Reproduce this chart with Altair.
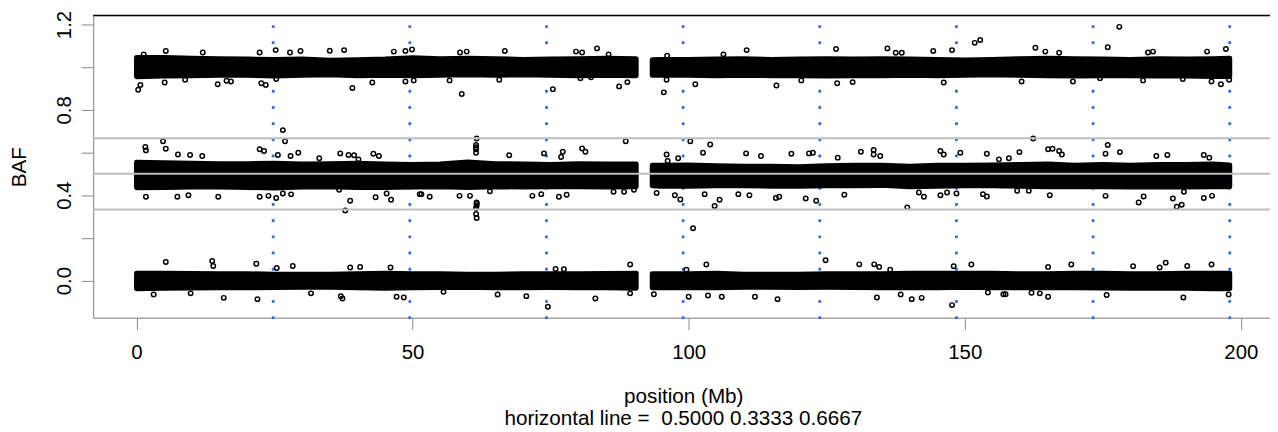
import json
import altair as alt
import pandas as pd

# ---------------- data ----------------
# envelope sample positions (Mb) of the dense bands, p-arm and q-arm
arm_p_pos = [0, 5, 10, 15, 20, 25, 30, 35, 40, 45, 50, 55, 60, 65, 70, 75, 80, 85, 90.5]
arm_q_pos = [93.4, 95, 100, 105, 110, 115, 120, 125, 130, 135, 140, 145, 150, 155,
             160, 165, 170, 175, 180, 185, 190, 195, 198]

# upper / lower edges of the dense BAF bands (near 1, 0.5, 0)
top_hi_p = [1.045, 1.045, 1.042, 1.040, 1.038, 1.036, 1.038, 1.032, 1.035, 1.038,
            1.044, 1.040, 1.042, 1.040, 1.036, 1.038, 1.040, 1.042, 1.040]
top_lo_p = [0.955, 0.958, 0.960, 0.962, 0.962, 0.958, 0.962, 0.965, 0.960, 0.962,
            0.960, 0.962, 0.965, 0.962, 0.965, 0.962, 0.960, 0.962, 0.960]
top_hi_q = [1.035, 1.036, 1.036, 1.038, 1.040, 1.036, 1.038, 1.040, 1.038, 1.040,
            1.038, 1.036, 1.034, 1.036, 1.040, 1.042, 1.040, 1.038, 1.036, 1.040,
            1.038, 1.040, 1.042]
top_lo_q = [0.962, 0.962, 0.962, 0.960, 0.962, 0.960, 0.960, 0.958, 0.960, 0.960,
            0.962, 0.960, 0.962, 0.964, 0.962, 0.960, 0.958, 0.960, 0.960, 0.958,
            0.958, 0.956, 0.956]
mid_hi_p = [0.555, 0.552, 0.550, 0.548, 0.548, 0.550, 0.546, 0.548, 0.550, 0.546,
            0.544, 0.546, 0.556, 0.548, 0.546, 0.544, 0.548, 0.546, 0.546]
mid_lo_p = [0.435, 0.436, 0.438, 0.438, 0.436, 0.434, 0.438, 0.440, 0.436, 0.436,
            0.438, 0.440, 0.436, 0.440, 0.438, 0.440, 0.440, 0.438, 0.440]
mid_hi_q = [0.540, 0.540, 0.542, 0.538, 0.536, 0.536, 0.534, 0.538, 0.540, 0.540,
            0.536, 0.540, 0.540, 0.542, 0.544, 0.546, 0.540, 0.544, 0.540, 0.544,
            0.544, 0.546, 0.542]
mid_lo_q = [0.444, 0.442, 0.442, 0.444, 0.444, 0.442, 0.442, 0.444, 0.444, 0.446,
            0.440, 0.442, 0.444, 0.444, 0.442, 0.440, 0.440, 0.440, 0.438, 0.438,
            0.438, 0.440, 0.440]
bot_hi_p = [0.034, 0.034, 0.033, 0.032, 0.032, 0.030, 0.030, 0.030, 0.032, 0.034,
            0.032, 0.032, 0.030, 0.030, 0.032, 0.032, 0.032, 0.033, 0.034]
bot_lo_p = [-0.038, -0.036, -0.035, -0.034, -0.034, -0.033, -0.032, -0.032, -0.034, -0.036,
            -0.034, -0.033, -0.032, -0.034, -0.034, -0.033, -0.034, -0.034, -0.036]
bot_hi_q = [0.032, 0.032, 0.032, 0.034, 0.030, 0.030, 0.030, 0.032, 0.032, 0.032,
            0.034, 0.034, 0.034, 0.034, 0.032, 0.032, 0.034, 0.034, 0.032, 0.032,
            0.034, 0.034, 0.034]
bot_lo_q = [-0.034, -0.034, -0.034, -0.034, -0.032, -0.032, -0.033, -0.032, -0.033, -0.034,
            -0.034, -0.034, -0.032, -0.034, -0.034, -0.034, -0.034, -0.035, -0.036, -0.036,
            -0.036, -0.038, -0.038]

# scattered SNPs outside the dense cores
top_out_pos = [0.3, 0.7, 1.3, 5.3, 5.1, 8.8, 12.0, 14.7, 16.3, 17.1, 22.3, 22.6, 23.4, 25.2,
               25.3, 27.8, 29.7, 35.0, 37.6, 39.1, 42.7, 46.6, 48.7, 49.9, 48.7, 50.2,
               56.7, 58.6, 59.8, 58.9, 65.7, 66.7, 75.4, 79.6, 80.7, 80.4, 82.3, 83.4,
               85.5, 87.4, 88.9, 95.5, 96.0, 96.1, 101.2, 106.3, 110.5, 115.9, 120.4,
               126.7, 126.9, 129.7, 136.0, 137.5, 138.6, 144.3, 146.2, 147.7, 151.8,
               152.8, 160.3, 162.8, 164.6, 167.1, 169.6, 174.5, 175.9, 178.0, 182.3,
               183.2, 184.1, 189.5, 193.9, 194.7, 196.4, 197.3, 197.9]
top_out_baf = [0.894, 0.917, 1.060, 1.076, 0.928, 0.941, 1.069, 0.920, 0.936, 0.933, 1.069,
               0.925, 0.917, 1.080, 0.945, 1.069, 1.076, 1.077, 1.080, 0.902, 0.928,
               1.073, 1.076, 1.083, 0.933, 0.938, 0.938, 1.069, 1.073, 0.874, 0.941,
               1.076, 0.897, 1.073, 1.069, 0.948, 0.953, 1.088, 1.060, 0.910, 0.930,
               0.882, 0.941, 1.054, 0.920, 1.060, 1.080, 0.914, 0.938, 1.085, 0.925,
               0.930, 1.088, 1.068, 1.068, 1.076, 0.928, 1.080, 1.114, 1.127, 0.933,
               1.091, 1.073, 1.068, 0.933, 0.948, 1.093, 1.189, 0.938, 1.069, 1.073,
               0.944, 1.073, 0.933, 0.920, 1.085, 0.941]

mid_out_pos = [1.6, 1.7, 4.8, 5.3, 7.5, 9.7, 11.9, 22.3, 23.1, 25.6, 26.5, 26.9, 27.9, 29.3,
               33.1, 36.9, 38.4, 39.4, 40.2, 42.9, 43.9,
               1.7, 7.4, 9.4, 14.8, 22.3, 23.9, 25.3, 26.5, 28.0, 36.7, 38.7, 37.8, 43.3,
               45.3, 46.1, 51.3,
               61.6, 61.5, 61.5, 61.5, 61.5, 61.6, 61.6, 61.6, 61.5, 61.5, 61.6,
               67.5, 73.8, 77.2, 76.9, 80.7, 81.3, 88.6, 51.6, 53.1, 58.5, 60.4, 64.0,
               71.7, 73.3, 76.5, 77.9, 86.4, 88.3, 90.1,
               96.0, 96.2, 98.1, 100.3, 102.6, 103.9, 94.2, 97.5, 98.5, 100.8, 102.9,
               104.7, 105.6,
               110.4, 113.1, 118.6, 121.8, 122.5, 127.0, 131.2, 133.5, 133.5, 134.7,
               145.6, 146.2, 149.2, 154.0, 159.9, 162.4, 165.1, 165.9,
               109.0, 111.0, 115.8, 116.4, 121.2, 123.1, 128.2, 139.6, 141.7, 142.6,
               145.6, 146.8, 148.5, 153.3, 154.0, 165.4,
               156.2, 158.0, 167.1, 167.6, 175.9, 175.5, 178.1, 184.7, 186.7, 193.3,
               194.3,
               159.5, 161.6, 175.5, 181.5, 182.4, 187.7, 188.4, 189.3, 189.7, 193.3,
               194.8]
mid_out_baf = [0.626, 0.610, 0.653, 0.618, 0.591, 0.588, 0.584, 0.615, 0.607, 0.588, 0.705,
               0.653, 0.584, 0.599, 0.573, 0.596, 0.588, 0.587, 0.568, 0.594, 0.584,
               0.393, 0.393, 0.400, 0.393, 0.393, 0.397, 0.387, 0.408, 0.404, 0.425,
               0.374, 0.328, 0.390, 0.408, 0.379, 0.405,
               0.666, 0.635, 0.625, 0.615, 0.599, 0.366, 0.360, 0.351, 0.340, 0.312, 0.293,
               0.587, 0.596, 0.604, 0.579, 0.619, 0.604, 0.653, 0.405, 0.393, 0.397,
               0.397, 0.418, 0.397, 0.405, 0.393, 0.402, 0.416, 0.416, 0.425,
               0.591, 0.560, 0.573, 0.653, 0.599, 0.638, 0.410, 0.400, 0.380, 0.245,
               0.405, 0.349, 0.379,
               0.596, 0.584, 0.594, 0.596, 0.599, 0.576, 0.604, 0.612, 0.591, 0.584,
               0.607, 0.591, 0.599, 0.594, 0.602, 0.666, 0.615, 0.618,
               0.405, 0.400, 0.387, 0.393, 0.385, 0.374, 0.402, 0.343, 0.413, 0.393,
               0.400, 0.413, 0.408, 0.405, 0.394, 0.400,
               0.568, 0.573, 0.607, 0.591, 0.635, 0.594, 0.602, 0.584, 0.588, 0.588,
               0.576,
               0.421, 0.421, 0.397, 0.366, 0.394, 0.385, 0.346, 0.355, 0.416, 0.387,
               0.397]

bot_out_pos = [5.3, 13.7, 13.9, 21.7, 25.4, 28.3, 38.7, 40.5, 46.0,
               3.1, 9.8, 15.8, 21.9, 31.6, 37.0, 37.3, 47.1, 48.4,
               75.9, 77.4, 89.4, 99.6, 103.2,
               74.5, 70.6, 83.1, 65.4, 55.6, 89.4, 93.7, 100.0, 103.5, 106.0,
               124.8, 130.9, 133.6, 134.5, 136.5, 148.0, 151.2, 165.1,
               112.0, 116.1, 134.1, 138.4, 140.4, 142.2, 147.7, 154.2, 157.0, 162.1,
               163.6, 165.1,
               169.3, 180.5, 185.3, 186.4, 190.3, 194.7,
               175.7, 189.6, 197.8, 157.4]
bot_out_baf = [0.087, 0.092, 0.068, 0.079, 0.059, 0.068, 0.061, 0.064, 0.061,
               -0.065, -0.060, -0.081, -0.087, -0.060, -0.073, -0.084, -0.076, -0.079,
               0.054, 0.053, 0.075, 0.051, 0.075,
               -0.123, -0.073, -0.084, -0.065, -0.053, -0.060, -0.064, -0.076, -0.070, -0.076,
               0.095, 0.076, 0.076, 0.064, 0.051, 0.067, 0.075, 0.064,
               -0.076, -0.087, -0.079, -0.065, -0.087, -0.081, -0.115, -0.056, -0.064,
               -0.057, -0.060, -0.076,
               0.075, 0.067, 0.061, 0.084, 0.068, 0.075,
               -0.068, -0.079, -0.065, -0.064]

cut_pos = [24.75, 49.5, 74.25, 99.0, 123.75, 148.5, 173.25, 198.0]   # blue dotted lines
ref_baf = [0.5, 0.3333, 0.6667]                                      # grey lines
x_ticks = [0, 50, 100, 150, 200]
y_ticks = [0.0, 0.2, 0.4, 0.6, 0.8, 1.0, 1.2]
y_labels_shown = ["0.0", "0.4", "0.8", "1.2"]
x_title = "position (Mb)"
y_title = "BAF"
sub_text = "horizontal line = \u00a00.5000 0.3333 0.6667"

# ---------------- tables ----------------
rows = []
bands = [
    ("top", arm_p_pos, top_lo_p, top_hi_p, arm_q_pos, top_lo_q, top_hi_q),
    ("mid", arm_p_pos, mid_lo_p, mid_hi_p, arm_q_pos, mid_lo_q, mid_hi_q),
    ("bot", arm_p_pos, bot_lo_p, bot_hi_p, arm_q_pos, bot_lo_q, bot_hi_q),
]
for name, pp, lop, hip, qp, loq, hiq in bands:
    for p, lo, hi in zip(pp, lop, hip):
        rows.append({"key": name + "_p", "pos": p, "baf": lo, "baf2": hi})
    for p, lo, hi in zip(qp, loq, hiq):
        rows.append({"key": name + "_q", "pos": p, "baf": lo, "baf2": hi})
band_df = pd.DataFrame(rows)

pts_df = pd.DataFrame({
    "pos": top_out_pos + mid_out_pos + bot_out_pos,
    "baf": top_out_baf + mid_out_baf + bot_out_baf,
})
cut_df = pd.DataFrame({"pos": cut_pos})
ref_df = pd.DataFrame({"baf": ref_baf})
sub_df = pd.DataFrame({"t": [sub_text]})

# ---------------- layout ----------------
W, H = 1184, 304
FONT = "Liberation Sans"
xscale = alt.Scale(domain=[-7.85, 205.29], nice=False, zero=False)
yscale = alt.Scale(domain=[-0.174, 1.242], nice=False, zero=False)

xaxis = alt.Axis(values=x_ticks, title=x_title, grid=False, tickSize=12, labelPadding=13,
                 labelFontSize=20.5, titleFontSize=20.8, titleFontWeight="normal",
                 titleX=593.7, titleY=85, titleBaseline="alphabetic", titleAlign="center",
                 labelFlush=False, labelOverlap=False)
yaxis = alt.Axis(values=y_ticks, format=".1f", title=y_title, grid=False, tickSize=12,
                 labelPadding=11, labelAngle=270, labelAlign="center",
                 labelBaseline="alphabetic", labelFontSize=20.5,
                 labelExpr="indexof(" + json.dumps(y_labels_shown) + ", datum.label) >= 0 ? datum.label : ''",
                 titleFontSize=20.8, titleFontWeight="normal", titleAngle=270,
                 titleX=-67.7, titleY=152, titleBaseline="alphabetic", titleAlign="center",
                 labelFlush=False, labelOverlap=False)

X = alt.X("pos:Q", scale=xscale, axis=xaxis)
Y = alt.Y("baf:Q", scale=yscale, axis=yaxis)

vlines = alt.Chart(cut_df).mark_rule(
    color="#4169E1", strokeWidth=3.2, strokeCap="round", strokeDash=[0.1, 16.17]
).encode(x=X, y=alt.value(H), y2=alt.value(0))

band = alt.Chart(band_df).mark_area(
    color="black", fill="black", stroke="black", strokeWidth=5,
    strokeJoin="round", strokeCap="round", opacity=1, interpolate="linear"
).encode(x=X, y=Y, y2=alt.Y2("baf2:Q"), detail="key:N")

pts = alt.Chart(pts_df).mark_point(
    shape="circle", filled=False, color="black", size=20, strokeWidth=1.5, opacity=1
).encode(x=X, y=Y)

hlines = alt.Chart(ref_df).mark_rule(color="#BEBEBE", strokeWidth=2).encode(y=Y)

topline = alt.Chart(sub_df).mark_rule(color="black", strokeWidth=1.5).encode(
    x=alt.value(0), x2=alt.value(W), y=alt.value(0))

sub = alt.Chart(sub_df).mark_text(
    font=FONT, fontSize=20.8, color="black", align="center", baseline="alphabetic"
).encode(text="t:N", x=alt.value(593.7), y=alt.value(411.7))

chart = alt.layer(vlines, band, pts, hlines, topline, sub).properties(
    width=W, height=H,
    autosize=alt.AutoSizeParams(type="none"),
    padding={"left": 85.7, "top": 6.3, "right": 0, "bottom": 110},
).configure_view(stroke=None).configure_axis(
    grid=False, domainColor="black", domainWidth=1.5, tickColor="black", tickWidth=1.5,
    labelColor="black", titleColor="black", labelFont=FONT, titleFont=FONT,
).configure(background="white")

chart.save("out.html", embed_options={"renderer": "svg", "actions": False})
